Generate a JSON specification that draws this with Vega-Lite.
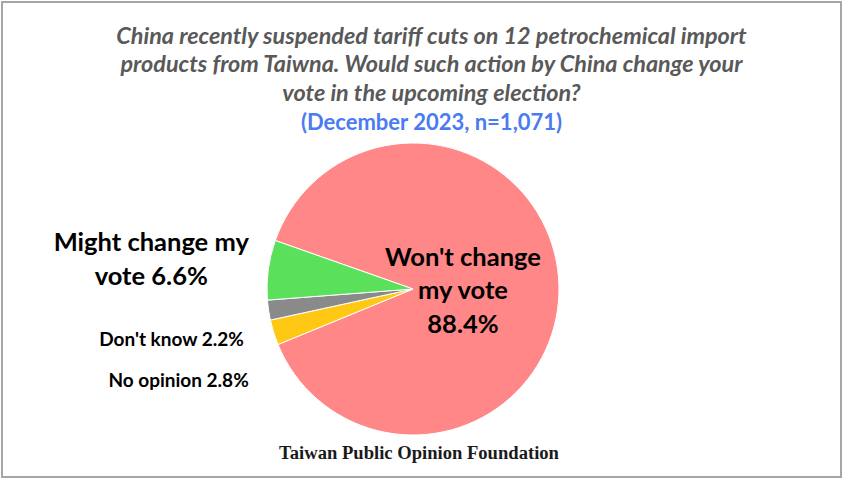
{
  "$schema": "https://vega.github.io/schema/vega-lite/v6.json",
  "width": 839,
  "height": 475,
  "padding": 2,
  "autosize": {"type": "none"},
  "background": "white",
  "view": {"stroke": "#A6A6A6", "strokeWidth": 2},
  "config": {"view": {"stroke": "#A6A6A6", "strokeWidth": 2}},
  "title": {
    "text": ["China recently suspended  tariff cuts on 12 petrochemical import", "products from Taiwna. Would such action by China change your", "vote in the upcoming election?"],
    "subtitle": "(December 2023, n=1,071)",
    "anchor": "middle",
    "frame": "group",
    "orient": "top",
    "offset": -133,
    "dx": 10,
    "font": "Lato",
    "fontSize": 23.4,
    "fontStyle": "italic",
    "fontWeight": "bold",
    "color": "#595959",
    "lineHeight": 28.5,
    "subtitleFont": "Lato",
    "subtitleFontSize": 22,
    "subtitleFontWeight": "bold",
    "subtitleColor": "#4A7BF2",
    "subtitlePadding": 7
  },
  "data": {
    "values": [
      {"answer": "Won't change my vote", "pct": 88.4, "rank": 1, "label": "Won't change\nmy vote\n88.4%"},
      {"answer": "No opinion", "pct": 2.8, "rank": 2, "label": "No opinion 2.8%"},
      {"answer": "Don't know", "pct": 2.2, "rank": 3, "label": "Don't know 2.2%"},
      {"answer": "Might change my vote", "pct": 6.6, "rank": 4, "label": "Might change my\nvote 6.6%"}
    ]
  },
  "layer": [
    {
      "mark": {"type": "arc", "outerRadius": 146, "x": 411, "y": 287, "stroke": "white", "strokeWidth": 1},
      "encoding": {
        "theta": {"field": "pct", "type": "quantitative", "stack": true, "scale": {"range": [5.051, 11.334]}},
        "order": {"field": "rank", "type": "quantitative"},
        "color": {"field": "answer", "type": "nominal", "legend": null,
          "scale": {"domain": ["Won't change my vote", "No opinion", "Don't know", "Might change my vote"],
                    "range": ["#FF8787", "#FFC814", "#8A8A8A", "#5BE05B"]}}
      }
    },
    {
      "mark": {"type": "text", "x": 411, "y": 287, "radius": 50, "font": "Lato", "fontWeight": "bold", "fontSize": 25.5, "lineBreak": "\n", "lineHeight": 33.5, "color": "black", "align": "center", "baseline": "middle", "dy": -30},
      "encoding": {
        "theta": {"field": "pct", "type": "quantitative", "stack": true, "scale": {"range": [5.051, 11.334]}},
        "order": {"field": "rank", "type": "quantitative"},
        "text": {"condition": {"test": "datum.rank == 1", "field": "label"}, "value": ""}
      }
    },
    {
      "mark": {"type": "text", "x": 411, "y": 287, "radius": 264, "font": "Lato", "fontWeight": "bold", "fontSize": 25.5, "lineBreak": "\n", "lineHeight": 34, "color": "black", "align": "center", "baseline": "middle", "dy": -11},
      "encoding": {
        "theta": {"field": "pct", "type": "quantitative", "stack": true, "scale": {"range": [5.051, 11.334]}},
        "order": {"field": "rank", "type": "quantitative"},
        "text": {"condition": {"test": "datum.rank == 4", "field": "label"}, "value": ""}
      }
    },
    {
      "mark": {"type": "text", "x": 411, "y": 287, "radius": 175, "font": "Lato", "fontWeight": "bold", "fontSize": 19, "color": "black", "align": "right", "baseline": "middle", "dx": 4, "dy": 26},
      "encoding": {
        "theta": {"field": "pct", "type": "quantitative", "stack": true, "scale": {"range": [5.051, 11.334]}},
        "order": {"field": "rank", "type": "quantitative"},
        "text": {"condition": {"test": "datum.rank == 3", "field": "label"}, "value": ""}
      }
    },
    {
      "mark": {"type": "text", "x": 411, "y": 287, "radius": 170, "font": "Lato", "fontWeight": "bold", "fontSize": 19, "color": "black", "align": "right", "baseline": "middle", "dx": -2, "dy": 41},
      "encoding": {
        "theta": {"field": "pct", "type": "quantitative", "stack": true, "scale": {"range": [5.051, 11.334]}},
        "order": {"field": "rank", "type": "quantitative"},
        "text": {"condition": {"test": "datum.rank == 2", "field": "label"}, "value": ""}
      }
    },
    {
      "data": {"values": [{"source": "Taiwan Public Opinion Foundation"}]},
      "mark": {"type": "text", "x": 417, "y": 451, "font": "Liberation Serif", "fontWeight": "bold", "fontSize": 18.6, "color": "#1A1A1A", "align": "center", "baseline": "middle"},
      "encoding": {"text": {"field": "source", "type": "nominal"}}
    }
  ]
}
